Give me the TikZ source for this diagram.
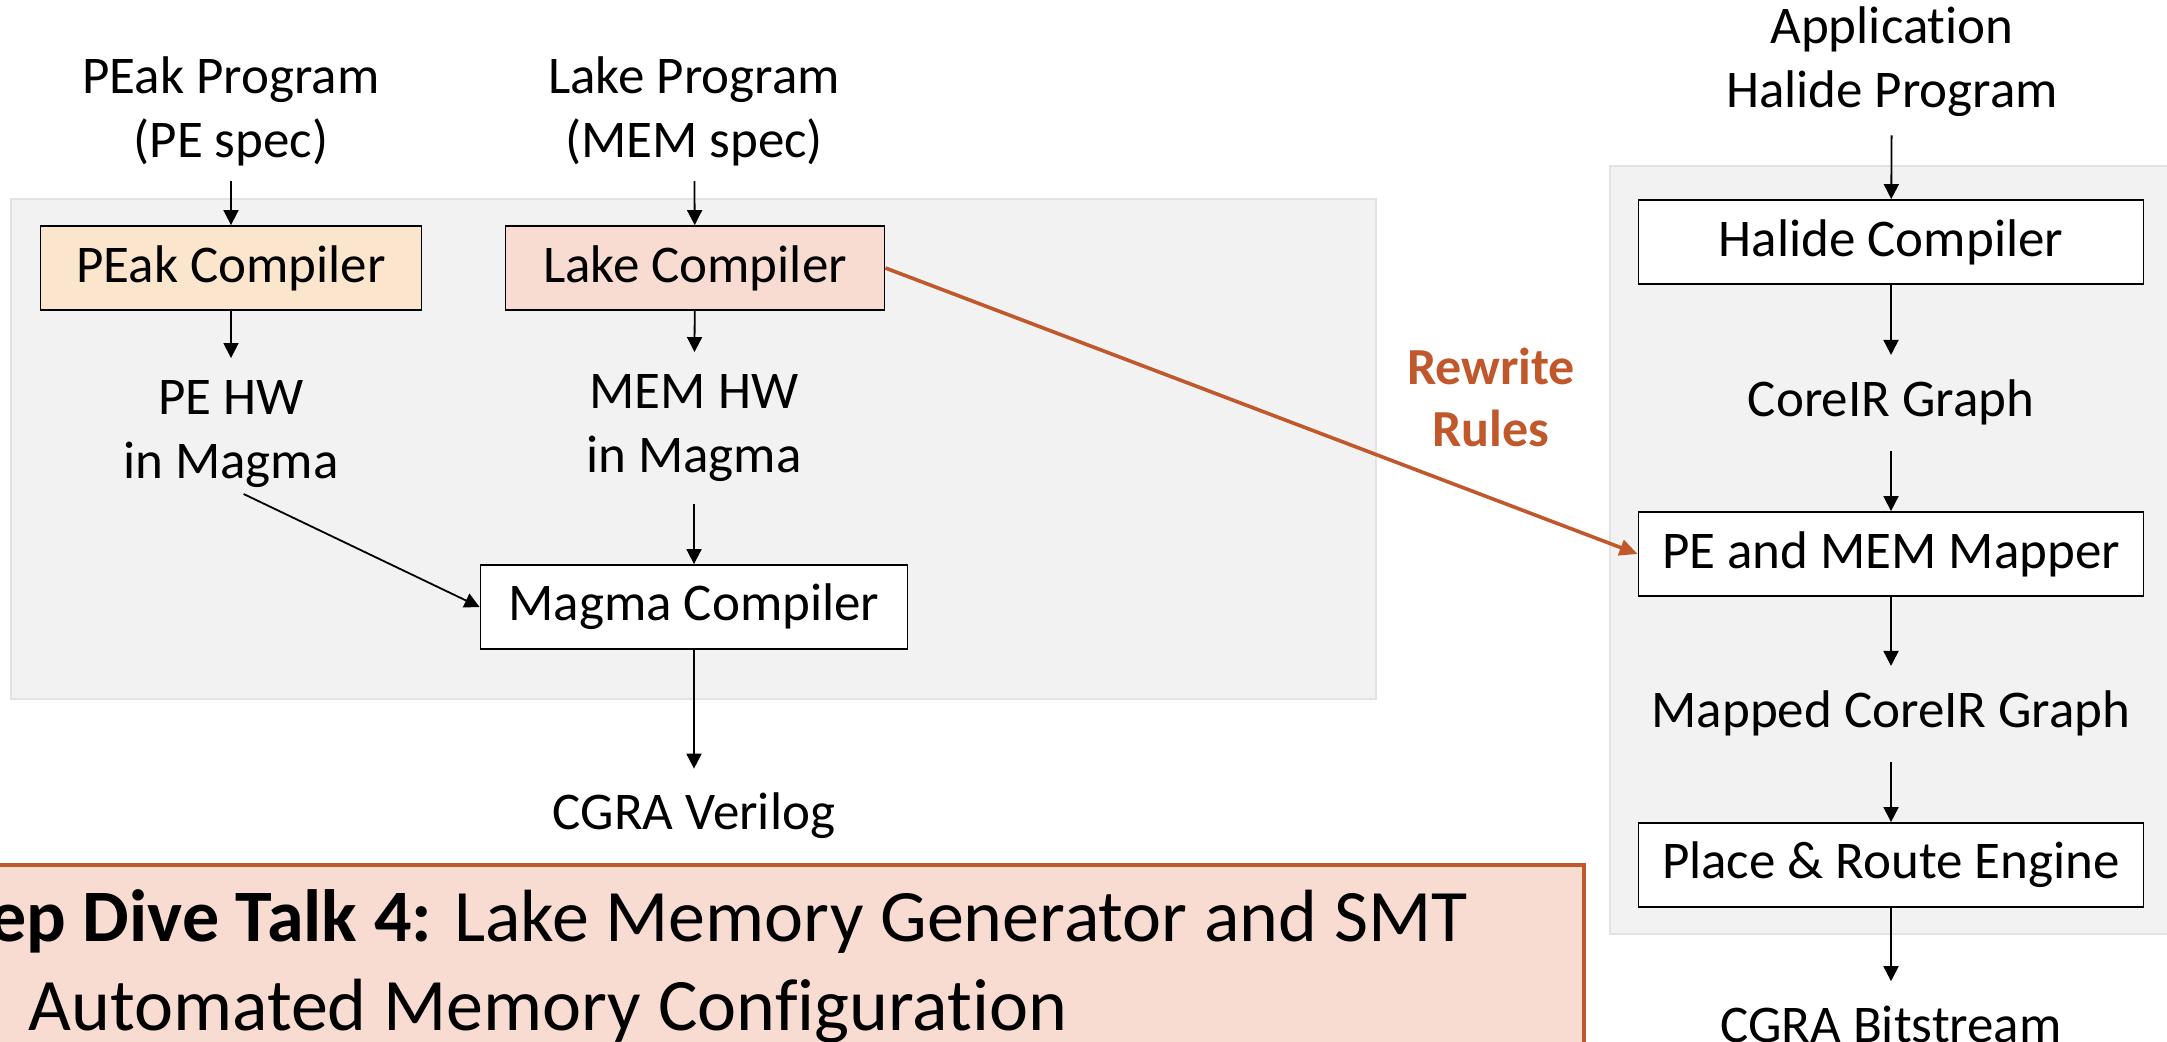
\documentclass[tikz,border=0pt]{standalone}
\usepackage{fontspec}
\setmainfont{Carlito}[Ligatures=NoCommon]
\usetikzlibrary{arrows.meta}
\definecolor{panelgray}{HTML}{F2F2F2}
\definecolor{panelline}{HTML}{E2E2E2}
\definecolor{peakfill}{HTML}{FBE5CD}
\definecolor{lakefill}{HTML}{F8DCD2}
\definecolor{rust}{HTML}{C0582B}
\begin{document}
\begin{tikzpicture}[x=0.5pt,y=-0.5pt,
  txt/.style={font=\fontsize{26.5}{32}\selectfont, align=center, inner sep=0pt},
  blk/.style={draw=black, line width=0.9pt, minimum height=42pt, inner sep=0pt,
    font=\fontsize{26.5}{32}\selectfont},
  panel/.style={fill=panelgray, draw=panelline, line width=1pt},
  flow/.style={-{Triangle[length=7.5pt,width=7.5pt]}, line width=0.9pt},
  rwflow/.style={-{Triangle[length=9pt,width=8pt]}, line width=1.8pt, draw=rust}]
\useasboundingbox (0,0) rectangle (2167,1042);
\clip (0,0) rectangle (2167,1042);

% background panels
\fill[white] (0,0) rectangle (2167,1042);
\draw[panel] (11,199) rectangle (1376,699);
\draw[panel] (1610,166) rectangle (2190,934);

% hardware generation flow
\node[txt] (peakprog) at (231,111) {PEak Program\\(PE spec)};
\node[txt] (lakeprog) at (694,111) {Lake Program\\(MEM spec)};
\node[blk, fill=peakfill, minimum width=190.5pt] (peak) at (231,268) {PEak Compiler};
\node[blk, fill=lakefill, minimum width=189.5pt] (lake) at (695,268) {Lake Compiler};
\node[txt] (pehw) at (231,434) {PE HW\\in Magma};
\node[txt] (memhw) at (694,428) {MEM HW\\in Magma};
\node[blk, fill=white, minimum width=213.5pt] (magma) at (694,607) {Magma Compiler};
\node[txt] (verilog) at (694,816) {CGRA Verilog};

\draw[flow, shorten <=7.5pt] (peakprog) -- (peak);
\draw[flow, shorten <=7.5pt] (lakeprog) -- (lake);
\draw[flow, shorten >=11pt] (peak) -- (pehw);
\draw[flow, shorten >=11pt] (lake) -- (memhw);
\draw[flow, shorten <=11pt] (memhw) -- (magma);
\draw[flow, shorten <=7pt] (pehw.south) -- (magma.west);
\draw[flow, shorten >=12pt] (magma) -- (verilog);

% application compilation flow
\node[txt] (app) at (1892,62) {Application\\Halide Program};
\node[blk, fill=white, minimum width=252.5pt] (halide) at (1891,242) {Halide Compiler};
\node[txt] (coreir) at (1891,402) {CoreIR Graph};
\node[blk, fill=white, minimum width=252.5pt] (mapper) at (1891,554) {PE and MEM Mapper};
\node[txt] (mapped) at (1891,713) {Mapped CoreIR Graph};
\node[blk, fill=white, minimum width=252.5pt] (pnr) at (1891,865) {Place \& Route Engine};
\node[txt] (bitstream) at (1891,1024) {CGRA Bitstream};

\draw[flow, shorten <=9pt] (app) -- (halide);
\draw[flow, shorten >=12pt] (halide) -- (coreir);
\draw[flow, shorten <=13pt] (coreir) -- (mapper);
\draw[flow, shorten >=12pt] (mapper) -- (mapped);
\draw[flow, shorten <=13pt] (mapped) -- (pnr);
\draw[flow, shorten >=12pt] (pnr) -- (bitstream);

% rewrite rules handed from Lake to the mapper
\node[font=\bfseries\fontsize{26}{31}\selectfont, text=rust, align=center, inner sep=0pt]
  (rules) at (1491,397) {Rewrite\\Rules};
\draw[rwflow] (lake.east) -- (mapper.west);

% talk banner
\draw[fill=lakefill, draw=rust, line width=2.2pt] (-20,865) rectangle (1584,1080);
\node[anchor=west, inner sep=0pt, font=\fontsize{37}{45}\selectfont] (talkA) at (-95,921)
  {\textbf{Deep Dive Talk 4:} Lake Memory Generator and SMT};
\node[anchor=west, inner sep=0pt, font=\fontsize{37}{45}\selectfont] (talkB) at (28,1011)
  {Automated Memory Configuration};
\end{tikzpicture}
\end{document}
